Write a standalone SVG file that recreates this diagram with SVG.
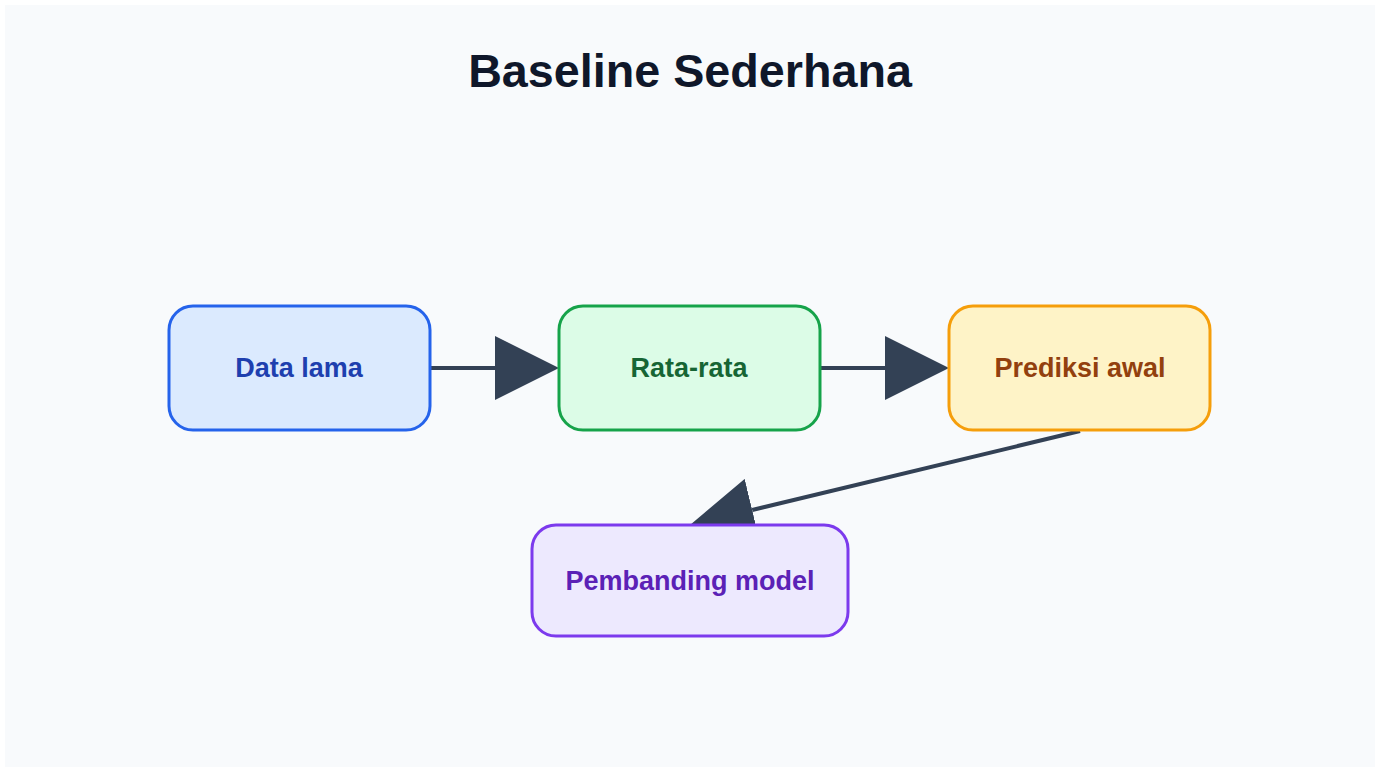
<svg xmlns="http://www.w3.org/2000/svg" width="1382" height="768" viewBox="0 0 1382 768">
  <style>
    .node rect { stroke-width: 3; }
    .label { font-family: "Liberation Sans", Arial, sans-serif; font-weight: bold; font-size: 27px; text-anchor: middle; }
    .title { font-family: "Liberation Sans", Arial, sans-serif; font-weight: bold; font-size: 46.7px; text-anchor: middle; fill: #0f172a; }
    .edge { stroke: #334155; stroke-width: 4; fill: none; }
  </style>
  <defs>
    <marker id="arrow" markerUnits="userSpaceOnUse" markerWidth="64" markerHeight="64" viewBox="0 0 10 10" refX="0" refY="5" orient="auto">
      <path d="M0,0 L10,5 L0,10 z" fill="#334155"/>
    </marker>
  </defs>
  <rect x="0" y="0" width="1382" height="768" fill="#ffffff"/>
  <rect x="5" y="5" width="1370" height="762" fill="#f8fafc"/>
  <text class="title" x="690" y="87">Baseline Sederhana</text>
  <g id="connectors">
    <line class="edge" x1="430" y1="368" x2="495" y2="368" marker-end="url(#arrow)"/>
    <line class="edge" x1="820" y1="368" x2="885" y2="368" marker-end="url(#arrow)"/>
    <line class="edge" x1="1080" y1="431" x2="752.2" y2="510" marker-end="url(#arrow)"/>
  </g>
  <g id="node-data-lama" class="node">
    <rect x="169" y="306" width="261" height="124" rx="24" fill="#dbeafe" stroke="#2563eb"/>
    <text class="label" x="299" y="377" fill="#1e40af">Data lama</text>
  </g>
  <g id="node-rata-rata" class="node">
    <rect x="559" y="306" width="261" height="124" rx="24" fill="#dcfce7" stroke="#16a34a"/>
    <text class="label" x="689" y="377" fill="#166534">Rata-rata</text>
  </g>
  <g id="node-prediksi-awal" class="node">
    <rect x="949" y="306" width="261" height="124" rx="24" fill="#fef3c7" stroke="#f59e0b"/>
    <text class="label" x="1080" y="377" fill="#92400e">Prediksi awal</text>
  </g>
  <g id="node-pembanding-model" class="node">
    <rect x="532" y="525" width="316" height="111" rx="24" fill="#ede9fe" stroke="#7c3aed"/>
    <text class="label" x="690" y="590" fill="#5b21b6">Pembanding model</text>
  </g>
</svg>
